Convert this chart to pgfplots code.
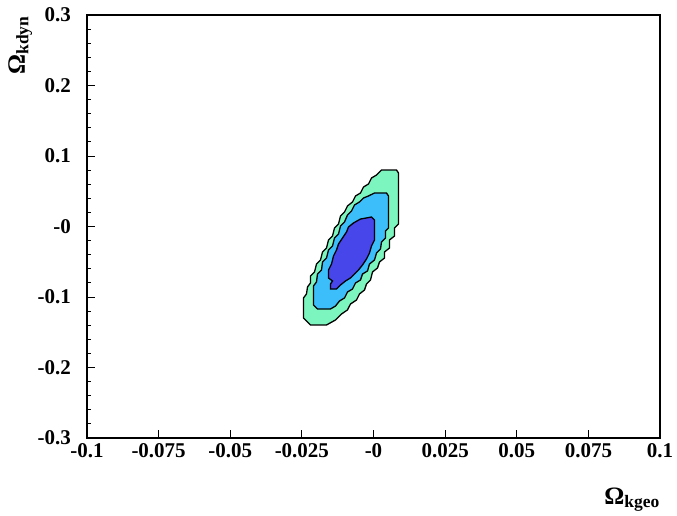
\documentclass[border=0pt]{standalone}
\usepackage{fontspec}
\setmainfont{Liberation Serif}
\usepackage{pgfplots}
\pgfplotsset{compat=1.18}

\definecolor{cgreen}{RGB}{125,245,190}
\definecolor{cblue}{RGB}{60,190,250}
\definecolor{cdark}{RGB}{70,70,235}

\begin{document}
\begin{tikzpicture}
\begin{axis}[
  name=ax,
  scale only axis,
  width=573pt, height=423pt,
  xmin=-0.1, xmax=0.1, ymin=-0.3, ymax=0.3,
  xtick={-0.1,-0.075,-0.05,-0.025,0,0.025,0.05,0.075,0.1},
  xticklabels={-0.1,-0.075,-0.05,-0.025,-0,0.025,0.05,0.075,0.1},
  ytick={-0.3,-0.2,-0.1,0,0.1,0.2,0.3},
  yticklabels={-0.3,-0.2,-0.1,-0,0.1,0.2,0.3},
  minor y tick num=4,
  tick align=inside,
  xtick pos=bottom, ytick pos=left,
  major tick length=8pt, minor tick length=4pt,
  every tick/.style={black, line width=0.9pt},
  axis line style={line width=1.8pt},
  tick label style={font=\fontsize{21}{22}\selectfont\bfseries, inner sep=0pt},
  xticklabel style={yshift=-5pt},
  yticklabel style={xshift=-16pt},
]
% outer contour
\addplot[fill=cgreen, draw=black, line width=1.3pt, mark=none] coordinates {
(0.00279,0.0801) (0.00803,0.0801) (0.00873,0.0759) (0.00873,0.0035) (0.00733,-0.0021)
(0.00733,-0.0135) (0.00558,-0.0191) (0.00558,-0.0305) (0.00384,-0.0362)
(0.00384,-0.0447) (0.00209,-0.0504) (0.00140,-0.0589) (-0.00035,-0.0645)
(-0.00105,-0.0759) (-0.00244,-0.0816) (-0.00314,-0.0901) (-0.00489,-0.0957)
(-0.00593,-0.1043) (-0.00803,-0.1099) (-0.00908,-0.1184) (-0.01117,-0.1241)
(-0.01326,-0.1326) (-0.01640,-0.1397) (-0.02199,-0.1397) (-0.02339,-0.1340)
(-0.02443,-0.1298) (-0.02443,-0.1014) (-0.02339,-0.0957) (-0.02304,-0.0858)
(-0.02199,-0.0801) (-0.02199,-0.0702) (-0.02059,-0.0645) (-0.01990,-0.0532)
(-0.01850,-0.0475) (-0.01780,-0.0362) (-0.01640,-0.0305) (-0.01571,-0.0191)
(-0.01431,-0.0135) (-0.01361,-0.0021) (-0.01222,0.0035) (-0.01152,0.0149)
(-0.01012,0.0206) (-0.00908,0.0291) (-0.00733,0.0348) (-0.00628,0.0433)
(-0.00454,0.0475) (-0.00349,0.0560) (-0.00175,0.0603) (-0.00070,0.0688)
(0.00105,0.0730)
} -- cycle;
% middle contour
\addplot[fill=cblue, draw=black, line width=1.3pt, mark=none] coordinates {
(0.00035,0.0475) (0.00454,0.0475) (0.00524,0.0433) (0.00524,-0.0021) (0.00419,-0.0064)
(0.00419,-0.0163) (0.00279,-0.0220) (0.00244,-0.0319) (0.00105,-0.0376)
(0.00035,-0.0475) (-0.00140,-0.0532) (-0.00209,-0.0631) (-0.00384,-0.0674)
(-0.00454,-0.0759) (-0.00628,-0.0801) (-0.00733,-0.0887) (-0.00908,-0.0929)
(-0.01012,-0.1014) (-0.01187,-0.1057) (-0.01326,-0.1128) (-0.01501,-0.1170)
(-0.01955,-0.1170) (-0.02094,-0.1113) (-0.02094,-0.0844) (-0.01990,-0.0787)
(-0.01955,-0.0674) (-0.01815,-0.0617) (-0.01780,-0.0504) (-0.01640,-0.0447)
(-0.01571,-0.0333) (-0.01431,-0.0277) (-0.01361,-0.0163) (-0.01222,-0.0106)
(-0.01152,0.0007) (-0.01012,0.0064) (-0.00908,0.0163) (-0.00768,0.0220)
(-0.00663,0.0305) (-0.00489,0.0348) (-0.00349,0.0404) (-0.00175,0.0433)
} -- cycle;
% inner contour
\addplot[fill=cdark, draw=black, line width=1.3pt, mark=none] coordinates {
(-0.00454,0.0106) (-0.00244,0.0121) (-0.00070,0.0135) (0.00035,0.0092)
(0.00035,-0.0191) (-0.00070,-0.0277) (-0.00140,-0.0376) (-0.00244,-0.0461)
(-0.00384,-0.0546) (-0.00524,-0.0617) (-0.00663,-0.0674) (-0.00803,-0.0730)
(-0.00977,-0.0773) (-0.01152,-0.0830) (-0.01291,-0.0887) (-0.01501,-0.0887)
(-0.01501,-0.0816) (-0.01431,-0.0773) (-0.01571,-0.0730) (-0.01571,-0.0617)
(-0.01466,-0.0532) (-0.01396,-0.0418) (-0.01291,-0.0333) (-0.01222,-0.0248)
(-0.01082,-0.0163) (-0.00942,-0.0078) (-0.00873,-0.0007) (-0.00698,0.0050)
} -- cycle;
\end{axis}
\node[rotate=90, anchor=north east, inner sep=0pt, font=\fontsize{25}{26}\selectfont\bfseries]
  at ([shift={(-79pt,-1pt)}]ax.north west) {Ω\textsubscript{kdyn}};
\node[anchor=south east, inner sep=0pt, font=\fontsize{25}{26}\selectfont\bfseries]
  at ([shift={(0pt,-74pt)}]ax.south east) {Ω\textsubscript{kgeo}};
\pgfresetboundingbox
\path ([shift={(-87pt,-78pt)}]ax.south west) rectangle ([shift={(17pt,15pt)}]ax.north east);
\end{tikzpicture}
\end{document}
